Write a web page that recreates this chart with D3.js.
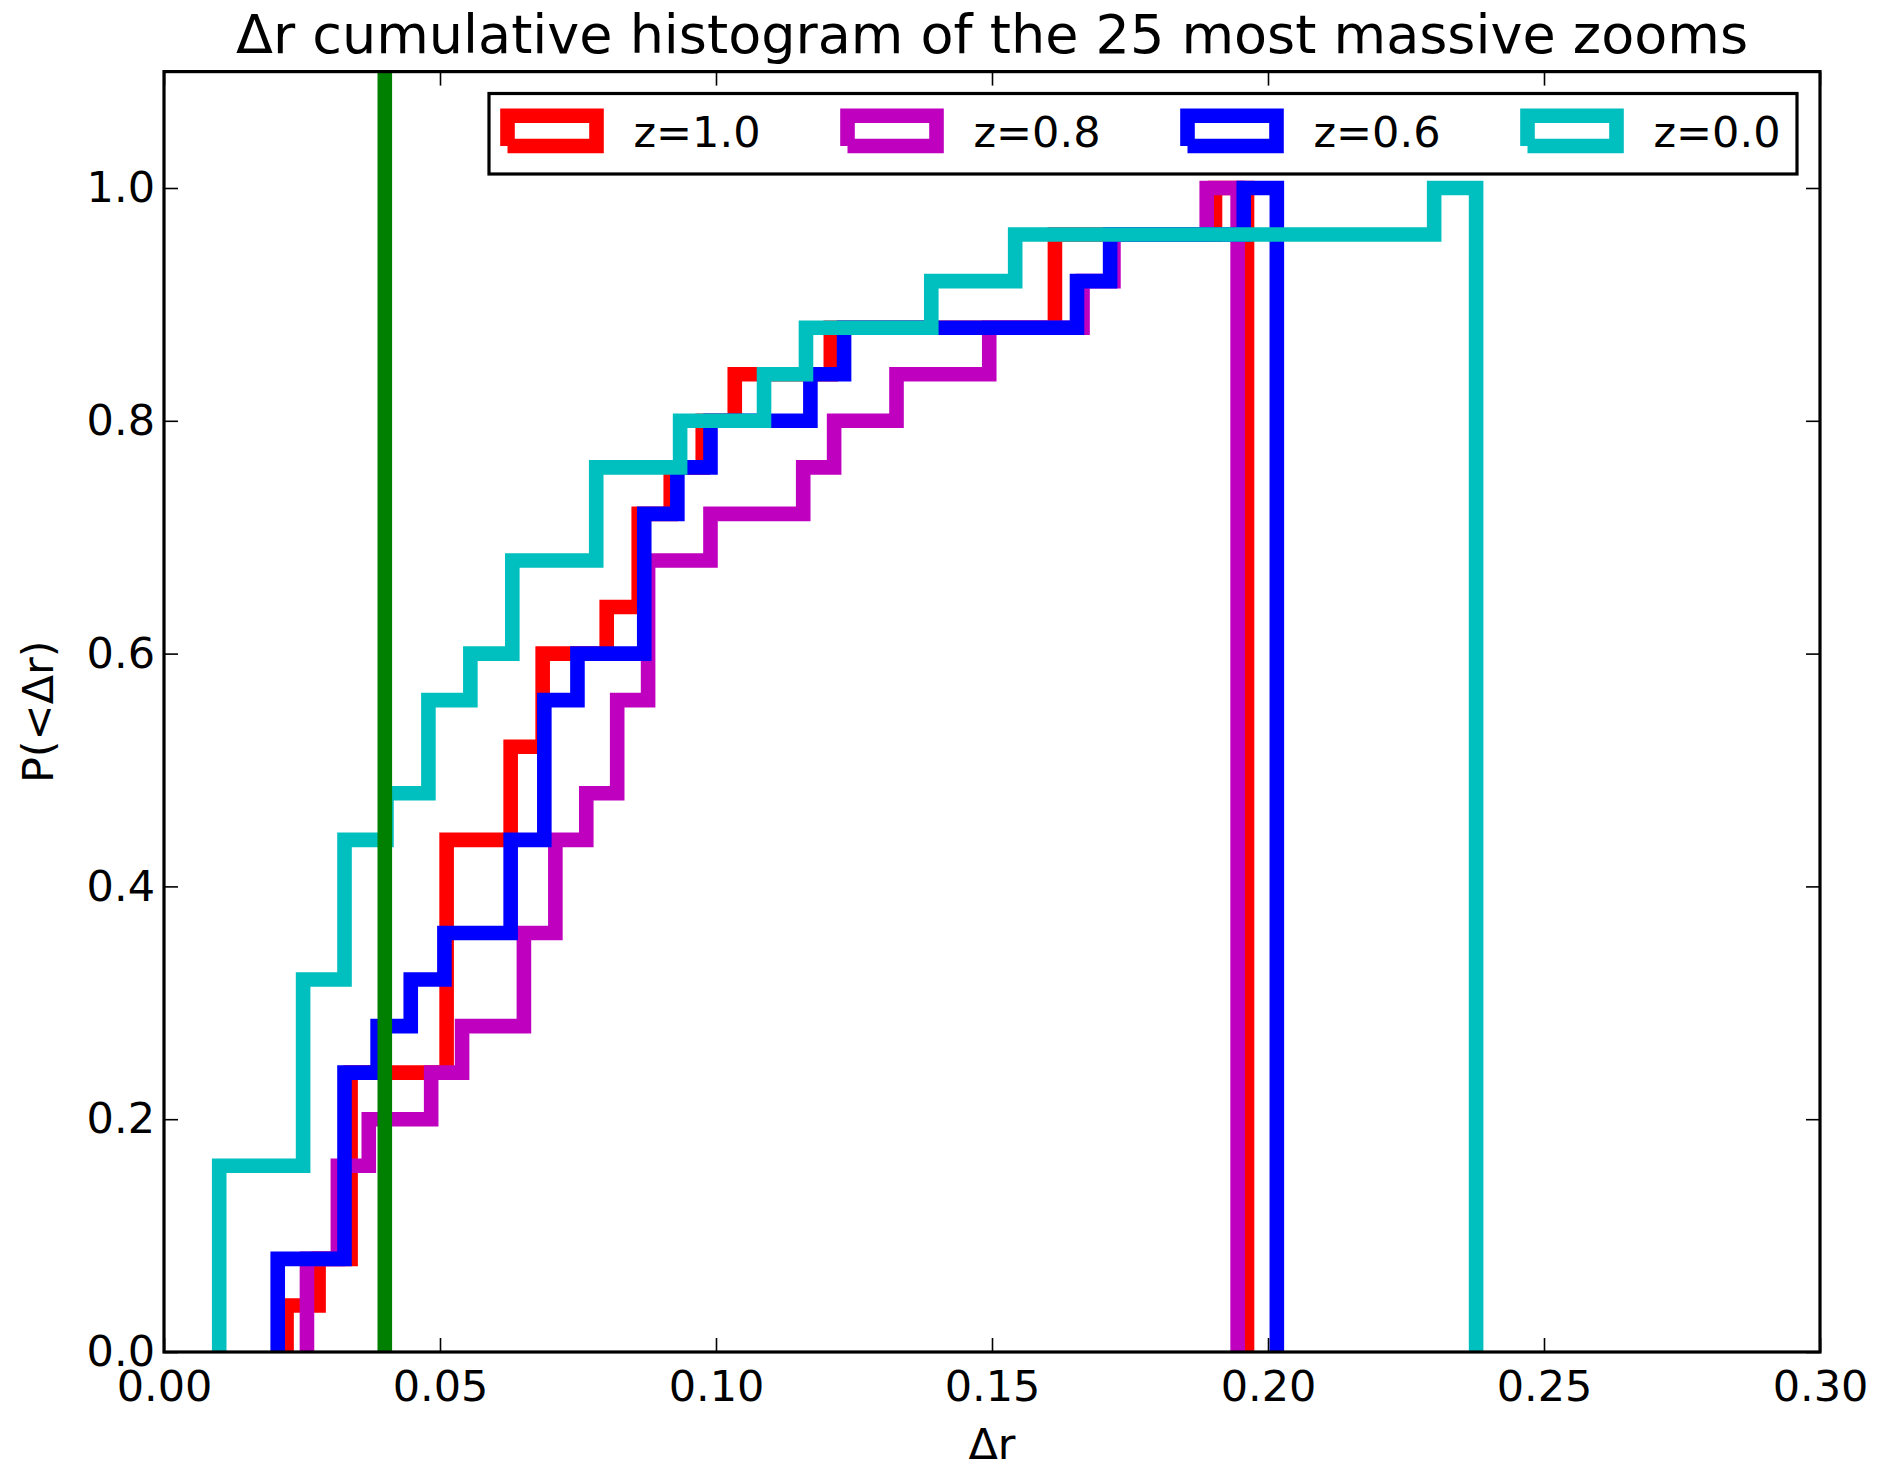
<!DOCTYPE html>
<html>
<head>
<meta charset="utf-8">
<script src="https://cdn.jsdelivr.net/npm/d3@7"></script>
<style>
  html, body { margin: 0; padding: 0; background: #fff; }
  svg { display: block; }
  text { font-family: "DejaVu Sans", sans-serif; fill: #000; }
</style>
</head>
<body>
<svg id="chart" width="1880" height="1465"></svg>
<script>
// ---- data ----
const seriesNames = ["z=1.0", "z=0.8", "z=0.6", "z=0.0"];
const seriesColors = ["#ff0000", "#bf00bf", "#0000ff", "#00bfbf"];

// step edges (Δr) where the cumulative level changes, and the level after each edge
const redEdges = [0.0222, 0.0280, 0.0338, 0.0512, 0.0628, 0.0686, 0.0802, 0.0860, 0.0918, 0.0976, 0.1034, 0.1208, 0.1614, 0.1904, 0.1962];
const redLevels = [0.04, 0.08, 0.24, 0.44, 0.52, 0.60, 0.64, 0.72, 0.76, 0.80, 0.84, 0.88, 0.96, 1.00];

const magentaEdges = [0.0259, 0.0315, 0.0371, 0.0484, 0.0540, 0.0652, 0.0709, 0.0765, 0.0821, 0.0877, 0.0990, 0.1158, 0.1214, 0.1327, 0.1495, 0.1664, 0.1720, 0.1889, 0.1945];
const magentaLevels = [0.08, 0.16, 0.20, 0.24, 0.28, 0.36, 0.44, 0.48, 0.56, 0.68, 0.72, 0.76, 0.80, 0.84, 0.88, 0.92, 0.96, 1.00];

const blueEdges = [0.0206, 0.0327, 0.0387, 0.0447, 0.0508, 0.0628, 0.0689, 0.0749, 0.0870, 0.0930, 0.0990, 0.1171, 0.1232, 0.1654, 0.1714, 0.1956, 0.2016];
const blueLevels = [0.08, 0.24, 0.28, 0.32, 0.36, 0.44, 0.56, 0.60, 0.72, 0.76, 0.80, 0.84, 0.88, 0.92, 0.96, 1.00];

const cyanEdges = [0.0100, 0.0252, 0.0327, 0.0403, 0.0479, 0.0555, 0.0631, 0.0783, 0.0935, 0.1087, 0.1163, 0.1390, 0.1542, 0.2301, 0.2377];
const cyanLevels = [0.16, 0.32, 0.44, 0.48, 0.56, 0.60, 0.68, 0.76, 0.80, 0.84, 0.88, 0.92, 0.96, 1.00];

const referenceLine = 0.04;

const xTicks = [0.00, 0.05, 0.10, 0.15, 0.20, 0.25, 0.30];
const yTicks = [0.0, 0.2, 0.4, 0.6, 0.8, 1.0];

const titleText = "\u0394r cumulative histogram of the 25 most massive zooms";
const xLabelText = "\u0394r";
const yLabelText = "P(<\u0394r)";

// ---- layout ----
const plot = { left: 164, right: 1820, top: 71.6, bottom: 1352 };
const LW = 14.6;
const FS = 43;

const svg = d3.select("#chart");
svg.append("rect").attr("width", 1880).attr("height", 1465).attr("fill", "#fff");

const x = d3.scaleLinear().domain([0, 0.30]).range([plot.left, plot.right]);
const y = d3.scaleLinear().domain([0, 1.1]).range([plot.bottom, plot.top]);

svg.append("defs").append("clipPath").attr("id", "clip")
  .append("rect")
  .attr("x", plot.left).attr("y", plot.top)
  .attr("width", plot.right - plot.left).attr("height", plot.bottom - plot.top);

const series = [
  { edges: redEdges, levels: redLevels },
  { edges: magentaEdges, levels: magentaLevels },
  { edges: blueEdges, levels: blueLevels },
  { edges: cyanEdges, levels: cyanLevels }
];

function stepPoints(edges, levels) {
  const pts = [[edges[0], 0]];
  levels.forEach((lv, i) => {
    pts.push([edges[i], lv]);
    pts.push([edges[i + 1], lv]);
  });
  pts.push([edges[edges.length - 1], 0]);
  return pts;
}

const line = d3.line().x(d => x(d[0])).y(d => y(d[1]));

const gPlot = svg.append("g").attr("clip-path", "url(#clip)");
series.forEach((s, i) => {
  gPlot.append("path")
    .attr("d", line(stepPoints(s.edges, s.levels)))
    .attr("fill", "none")
    .attr("stroke", seriesColors[i])
    .attr("stroke-width", LW)
    .attr("stroke-linejoin", "miter")
    .attr("stroke-linecap", "butt");
});

gPlot.append("line")
  .attr("x1", x(referenceLine)).attr("x2", x(referenceLine))
  .attr("y1", y(0)).attr("y2", y(1.1))
  .attr("stroke", "#008000").attr("stroke-width", LW);

// ---- axes ----
function styleAxis(g) {
  g.select(".domain").remove();
  g.selectAll(".tick line").attr("stroke", "#000").attr("stroke-width", 1.6);
  g.selectAll(".tick text").attr("font-size", FS).attr("font-family", "DejaVu Sans").attr("fill", "#000");
}

svg.append("g").attr("transform", `translate(0,${plot.bottom})`)
  .call(d3.axisBottom(x).tickValues(xTicks).tickFormat(d3.format(".2f")).tickSize(-14).tickPadding(18))
  .call(styleAxis);
svg.append("g").attr("transform", `translate(0,${plot.top})`)
  .call(d3.axisTop(x).tickValues(xTicks).tickFormat("").tickSize(-14))
  .call(styleAxis);
svg.append("g").attr("transform", `translate(${plot.left},0)`)
  .call(d3.axisLeft(y).tickValues(yTicks).tickFormat(d3.format(".1f")).tickSize(-14).tickPadding(9))
  .call(styleAxis);
svg.append("g").attr("transform", `translate(${plot.right},0)`)
  .call(d3.axisRight(y).tickValues(yTicks).tickFormat("").tickSize(-14))
  .call(styleAxis);

// frame
svg.append("rect")
  .attr("x", plot.left).attr("y", plot.top)
  .attr("width", plot.right - plot.left).attr("height", plot.bottom - plot.top)
  .attr("fill", "none").attr("stroke", "#000").attr("stroke-width", 3.2);

// ---- labels ----
svg.append("text")
  .attr("x", (plot.left + plot.right) / 2).attr("y", 53)
  .attr("text-anchor", "middle").attr("font-size", 54)
  .text(titleText);

svg.append("text")
  .attr("x", (plot.left + plot.right) / 2).attr("y", 1459)
  .attr("text-anchor", "middle").attr("font-size", FS)
  .text(xLabelText);

svg.append("text")
  .attr("transform", `translate(53,${(plot.top + plot.bottom) / 2}) rotate(-90)`)
  .attr("text-anchor", "middle").attr("font-size", FS)
  .text(yLabelText);

// ---- legend ----
const legend = svg.append("g");
legend.append("rect")
  .attr("x", 489).attr("y", 93.5).attr("width", 1308).attr("height", 80.5)
  .attr("fill", "#fff").attr("stroke", "#000").attr("stroke-width", 3.2);

seriesNames.forEach((name, i) => {
  const x0 = 507.5 + i * 340, x1 = x0 + 89, y0 = 115.7, y1 = 146;
  legend.append("path")
    .attr("d", `M${x0},${y1}V${y0}H${x1}V${y1}H${x0}`)
    .attr("fill", "none")
    .attr("stroke", seriesColors[i])
    .attr("stroke-width", LW)
    .attr("stroke-linejoin", "miter")
    .attr("stroke-linecap", "butt");
  legend.append("text")
    .attr("x", x0 + 126).attr("y", 147)
    .attr("font-size", FS)
    .text(name);
});
</script>
</body>
</html>
